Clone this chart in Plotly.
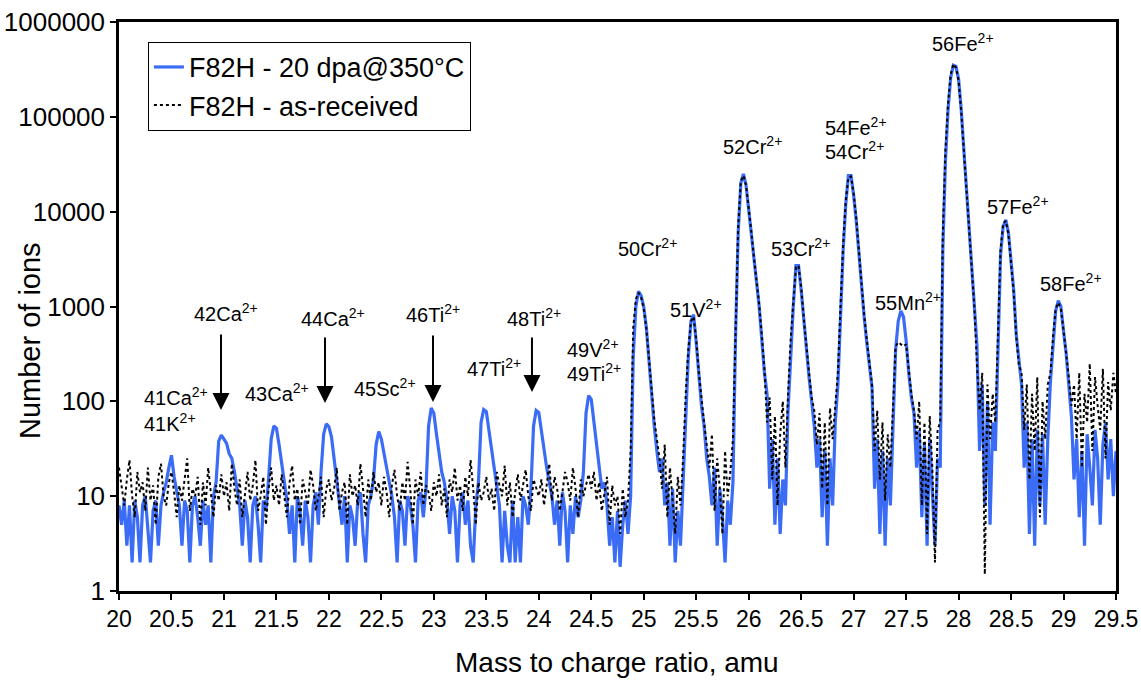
import numpy as np
import plotly.graph_objects as go

# ---------------- data ----------------
mass_start = 20.0
mass_step = 0.025

# F82H - 20 dpa@350°C  (rows of 20 points = 0.5 amu each), last value at 29.5
irradiated = [
    8, 5, 9, 3, 8, 2, 9, 6, 2, 8, 10, 4, 2, 7, 9, 3, 8, 11, 14, 20,
    27, 16, 11, 8, 3, 9, 7, 2, 8, 10, 6, 3, 9, 5, 8, 2, 10, 14, 38, 44,
    40, 36, 28, 25, 18, 12, 8, 3, 9, 6, 2, 8, 10, 5, 2, 9, 7, 15, 40, 55,
    52, 35, 22, 14, 9, 4, 8, 2, 10, 7, 3, 9, 6, 2, 8, 11, 5, 18, 45, 58,
    54, 42, 25, 16, 9, 5, 10, 2, 8, 6, 3, 9, 11, 4, 2, 8, 10, 15, 35, 48,
    40, 28, 20, 14, 10, 6, 2, 9, 7, 3, 10, 8, 5, 2, 9, 11, 6, 12, 55, 85,
    75, 45, 28, 18, 14, 9, 4, 10, 7, 2, 8, 11, 5, 9, 3, 2, 8, 14, 60, 82,
    78, 50, 30, 18, 12, 8, 2, 7, 3, 2, 9, 2, 6, 2, 10, 8, 5, 12, 55, 80,
    76, 48, 30, 20, 14, 10, 5, 9, 3, 11, 7, 2, 8, 4, 10, 6, 9, 18, 75, 115,
    105, 60, 35, 18, 12, 14, 8, 3, 6, 2, 7, 1.8, 5, 9, 4, 10, 300, 1000, 1450, 1300,
    1000, 600, 260, 110, 55, 30, 18, 25, 8, 14, 3, 12, 2, 7, 3, 14, 60, 300, 700, 820,
    420, 180, 90, 55, 25, 16, 8, 20, 3, 12, 6, 2, 9, 5, 14, 500, 6000, 20000, 25000, 19000,
    11000, 6000, 3200, 1800, 1000, 450, 200, 120, 12, 40, 5, 25, 4, 15, 8, 80, 350, 1000, 2700, 2700,
    1500, 700, 320, 180, 100, 55, 20, 40, 6, 30, 3, 25, 8, 60, 150, 800, 3900, 12000, 24000, 24000,
    15000, 8000, 3500, 1600, 780, 420, 230, 140, 12, 40, 4, 30, 3, 25, 8, 46, 350, 700, 900, 780,
    440, 200, 110, 75, 20, 50, 6, 35, 3, 40, 12, 3, 25, 20, 4000, 35000, 120000, 260000, 350000, 340000,
    250000, 120000, 45000, 18000, 6000, 2200, 900, 400, 30, 150, 8, 100, 5, 60, 30, 350, 3500, 7000, 8200, 6000,
    3000, 1500, 500, 250, 150, 20, 60, 4, 40, 3, 50, 8, 45, 5, 40, 160, 440, 900, 1150, 1000,
    550, 320, 150, 70, 15, 40, 6, 30, 3, 45, 20, 8, 50, 25, 5, 35, 60, 15, 40, 10,
    30,
]

# F82H - as-received
as_received = [
    20, 12, 8, 15, 24, 10, 6, 18, 11, 14, 7, 20, 9, 13, 5, 16, 22, 10, 8, 14,
    18, 11, 6, 13, 9, 15, 25, 7, 12, 10, 16, 5, 14, 8, 20, 11, 6, 13, 9, 17,
    10, 14, 7, 22, 12, 8, 15, 6, 11, 18, 9, 13, 24, 7, 10, 16, 5, 12, 20, 9,
    13, 8, 17, 10, 6, 14, 21, 9, 12, 5, 15, 11, 8, 19, 13, 7, 10, 16, 6, 12,
    15, 9, 12, 20, 7, 11, 14, 5, 17, 10, 13, 8, 22, 12, 6, 15, 9, 18, 11, 14,
    8, 16, 11, 6, 13, 19, 10, 7, 14, 9, 23, 12, 5, 15, 10, 18, 8, 13, 11, 7,
    14, 10, 17, 8, 12, 6, 15, 11, 20, 9, 13, 7, 16, 10, 24, 12, 5, 14, 9, 11,
    16, 9, 12, 7, 18, 13, 10, 21, 8, 14, 6, 11, 17, 9, 13, 19, 10, 7, 15, 12,
    10, 15, 8, 13, 22, 9, 16, 12, 7, 11, 18, 14, 9, 20, 12, 6, 15, 10, 13, 17,
    12, 18, 9, 14, 7, 11, 16, 5, 13, 8, 10, 4, 12, 6, 9, 30, 600, 1200, 1400, 1250,
    950, 580, 270, 120, 65, 40, 25, 12, 35, 6, 20, 9, 4, 16, 8, 25, 120, 350, 700, 780,
    450, 200, 100, 60, 35, 20, 45, 7, 25, 12, 4, 30, 10, 18, 40, 700, 7000, 21000, 24000, 19000,
    11500, 6200, 3300, 1900, 1050, 500, 220, 60, 110, 15, 70, 8, 45, 100, 20, 120, 450, 1100, 2600, 2700,
    1600, 750, 350, 200, 110, 80, 35, 75, 12, 60, 8, 85, 40, 90, 200, 1000, 4500, 13000, 23000, 23500,
    15500, 8500, 3700, 1700, 820, 450, 250, 150, 30, 80, 15, 60, 9, 45, 20, 90, 380, 420, 400, 380,
    400, 220, 120, 80, 40, 100, 8, 60, 4, 70, 20, 2, 50, 60, 6000, 45000, 140000, 280000, 360000, 330000,
    240000, 115000, 43000, 17000, 6500, 2500, 1000, 250, 80, 200, 1.5, 150, 40, 120, 60, 500, 4000, 7500, 8000, 5800,
    2900, 1400, 480, 240, 200, 50, 150, 15, 120, 30, 180, 6, 100, 40, 150, 200, 480, 950, 1100, 950,
    560, 330, 180, 90, 150, 40, 200, 20, 120, 60, 250, 30, 180, 90, 50, 220, 25, 160, 80, 200,
    120,
]

# peak labels: text, x (amu), log10(y), anchor
label_text = ["41Ca<sup>2+</sup>", "41K<sup>2+</sup>", "42Ca<sup>2+</sup>", "43Ca<sup>2+</sup>",
              "44Ca<sup>2+</sup>", "45Sc<sup>2+</sup>", "46Ti<sup>2+</sup>", "47Ti<sup>2+</sup>",
              "48Ti<sup>2+</sup>", "49V<sup>2+</sup>", "49Ti<sup>2+</sup>", "50Cr<sup>2+</sup>",
              "51V<sup>2+</sup>", "52Cr<sup>2+</sup>", "53Cr<sup>2+</sup>", "54Fe<sup>2+</sup>",
              "54Cr<sup>2+</sup>", "55Mn<sup>2+</sup>", "56Fe<sup>2+</sup>", "57Fe<sup>2+</sup>",
              "58Fe<sup>2+</sup>"]
label_x = [20.219, 20.219, 21.020, 21.505, 22.039, 22.535, 22.992, 23.573, 23.954, 24.250, 24.250,
           25.040, 25.498, 26.041, 26.498, 26.708, 26.708, 27.518, 28.042, 28.566, 29.071]
label_logy = [2.046, 1.782, 2.932, 2.088, 2.879, 2.151, 2.921, 2.362, 2.879, 2.552, 2.299,
              3.617, 2.984, 4.693, 3.617, 4.893, 4.650, 3.048, 5.779, 4.060, 3.248]
label_anchor = ["left", "left", "center", "center", "center", "center", "center", "center",
                "center", "left", "left", "center", "center", "center", "center", "left", "left",
                "center", "center", "center", "center"]

# arrows: tip x (amu), tip log10(y), length (px)
arrow_x = [20.972, 21.963, 22.992, 23.935]
arrow_logy = [1.909, 1.982, 1.993, 2.098]
arrow_len = [77, 67, 68, 56]

y_tick_vals = [1, 10, 100, 1000, 10000, 100000, 1000000]
y_tick_text = ["1", "10", "100", "1000", "10000", "100000", "1000000"]

x_title = "Mass to charge ratio, amu"
y_title = "Number of ions"

# ---------------- figure ----------------
mass = np.round(mass_start + mass_step * np.arange(len(irradiated)), 3)

FONT = "Liberation Sans, Arial, sans-serif"
fig = go.Figure()
fig.add_trace(go.Scatter(x=mass, y=irradiated, mode="lines", name="F82H - 20 dpa@350°C",
                         line=dict(color="#3B6CF5", width=3.2)))
fig.add_trace(go.Scatter(x=mass, y=as_received, mode="lines", name="F82H - as-received",
                         line=dict(color="black", width=2, dash="dot")))

for t, x, ly, a in zip(label_text, label_x, label_logy, label_anchor):
    fig.add_annotation(x=x, y=ly, xref="x", yref="y", text=t, showarrow=False,
                       xanchor=a, yanchor="middle", font=dict(family=FONT, size=20, color="black"))

for x, ly, L in zip(arrow_x, arrow_logy, arrow_len):
    fig.add_annotation(x=x, y=ly, xref="x", yref="y", text="", showarrow=True,
                       ax=0, ay=-L, arrowhead=2, arrowsize=1.7, arrowwidth=2,
                       arrowcolor="black", standoff=0)

# axis titles placed as text in paper coordinates
fig.add_annotation(x=-0.0893, y=0.441, xref="paper", yref="paper", text=y_title, textangle=-90,
                   showarrow=False, xanchor="center", yanchor="middle",
                   font=dict(family=FONT, size=29, color="black"))
fig.add_annotation(x=0.4995, y=-0.1248, xref="paper", yref="paper", text=x_title,
                   showarrow=False, xanchor="center", yanchor="middle",
                   font=dict(family=FONT, size=28, color="black"))

fig.update_layout(
    width=1141, height=687,
    margin=dict(l=119, r=25, t=22, b=96),
    paper_bgcolor="white", plot_bgcolor="white",
    font=dict(family=FONT, color="black"),
    showlegend=True,
    legend=dict(x=0.029, y=0.965, xanchor="left", yanchor="top",
                bgcolor="white", bordercolor="black", borderwidth=1,
                font=dict(family=FONT, size=27, color="black")),
)
fig.update_xaxes(range=[20, 29.5], dtick=0.5, tick0=20, showgrid=False, zeroline=False,
                 showline=True, linecolor="black", linewidth=2.5, mirror=True,
                 ticks="outside", ticklen=6, tickwidth=1.5, tickcolor="black",
                 tickfont=dict(family=FONT, size=23), automargin=False)
fig.update_yaxes(type="log", range=[0, 6], tickvals=y_tick_vals, ticktext=y_tick_text,
                 showgrid=False, zeroline=False,
                 showline=True, linecolor="black", linewidth=2.5, mirror=True,
                 ticks="outside", ticklen=6, tickwidth=1.5, tickcolor="black",
                 tickfont=dict(family=FONT, size=26), automargin=False)

fig.write_html("out.html", config={"displayModeBar": False})
